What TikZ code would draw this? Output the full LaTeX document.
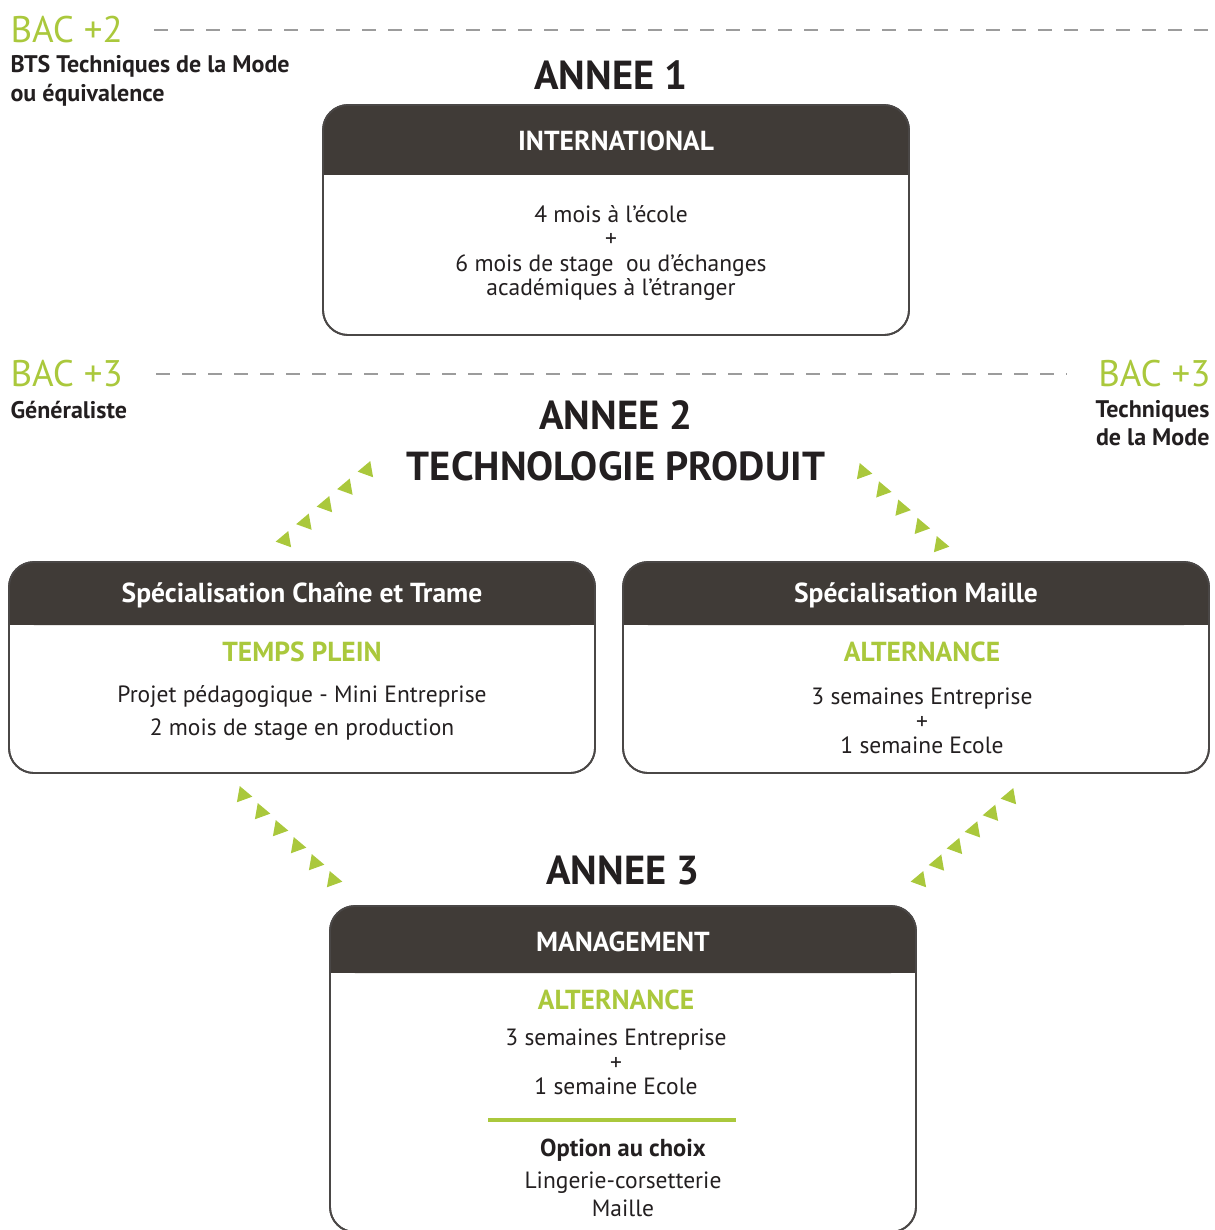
\documentclass[tikz,border=0pt]{standalone}
\usepackage{fontspec}
\setmainfont{PT Sans}
\usetikzlibrary{shapes.geometric}
\definecolor{hdr}{HTML}{403B37}
\definecolor{boxline}{HTML}{4A4746}
\definecolor{lime}{HTML}{AAC83C}
\definecolor{ink}{HTML}{231F20}
\definecolor{dashgray}{HTML}{9C9C9C}
\begin{document}
\begin{tikzpicture}[x=1pt,y=-1pt,
  card/.style={draw=boxline, line width=1.8pt, rounded corners=25pt, fill=white, anchor=north west, inner sep=0pt, outer sep=0pt, minimum width=586pt},
  hdrbox/.style={fill=hdr, rounded corners=25pt, anchor=north west, inner sep=0pt, outer sep=0pt, minimum width=586pt},
  htext/.style={text=white, font=\bfseries\fontsize{27.5}{30}\selectfont},
  body/.style={text=ink, align=center, font=\fontsize{23.5}{24.5}\selectfont},
  greentitle/.style={text=lime, font=\bfseries\fontsize{27.5}{30}\selectfont},
  title/.style={text=ink, font=\bfseries\fontsize{40.5}{46}\selectfont},
  bac/.style={text=lime, font=\fontsize{37}{40}\selectfont},
  sub/.style={text=ink, font=\bfseries\fontsize{24}{28.5}\selectfont},
  dashline/.style={draw=dashgray, line width=2.5pt, dash pattern=on 14pt off 12pt},
  tri/.style={regular polygon, regular polygon sides=3, fill=lime, inner sep=0pt, minimum size=19pt}
]
\useasboundingbox (0,0) rectangle (1214,1230);

% --- left / right labels and dashed levels
\node[bac, anchor=west] (bac2) at (7,30) {BAC +2};
\coordinate (d1) at (1214,30);
\draw[dashline] ([xshift=28pt]bac2.east) -- (d1);
\node[sub, anchor=west, align=left] (bts) at (7,81) {BTS Techniques de la Mode\\ou équivalence};

\node[bac, anchor=west] (bac3l) at (7,374) {BAC +3};
\node[sub, anchor=west] (gen) at (7,410) {Généraliste};
\node[bac, anchor=east] (bac3r) at (1214,374) {BAC +3};
\node[sub, anchor=east, align=right] (tdm) at (1213,423) {Techniques\\de la Mode};
\draw[dashline] ([xshift=30pt]bac3l.east) -- ([xshift=-28pt]bac3r.west);

% --- Annee 1
\node[title] (y1) at (611,75) {ANNEE 1};
\node[card, minimum height=230pt] (b1) at (323,105) {};
\node[hdrbox, minimum height=70pt] (h1) at (323,105) {};
\fill[hdr] ([yshift=30pt]h1.south west) rectangle (h1.south east);
\draw[draw=boxline, line width=1.8pt, rounded corners=25pt] (b1.north west) rectangle (b1.south east);
\node[htext] (h1t) at ([yshift=-1pt]h1.center) {INTERNATIONAL};
\node[body] (b1t) at (611,253) {4 mois à l’école\\+\\6 mois de stage \ ou d’échanges\\académiques à l’étranger};

% --- Annee 2
\node[title] (y2) at (616,415) {ANNEE 2};
\node[title] (tp) at (616,466) {TECHNOLOGIE PRODUIT};

% left box
\node[card, minimum height=211pt] (b2) at (9,562) {};
\node[hdrbox, minimum height=63pt] (h2) at (9,562) {};
\fill[hdr] ([yshift=30pt]h2.south west) rectangle (h2.south east);
\draw[draw=boxline, line width=1.8pt, rounded corners=25pt] (b2.north west) rectangle (b2.south east);
\node[htext] (h2t) at ([yshift=-2pt]h2.center) {Spécialisation Chaîne et Trame};
\node[greentitle] (g2) at (302,652) {TEMPS PLEIN};
\node[body, font=\fontsize{23.5}{33}\selectfont] (b2t) at (302,713) {Projet pédagogique - Mini Entreprise\\2 mois de stage en production};

% right box
\node[card, minimum height=211pt] (b3) at (623,562) {};
\node[hdrbox, minimum height=63pt] (h3) at (623,562) {};
\fill[hdr] ([yshift=30pt]h3.south west) rectangle (h3.south east);
\draw[draw=boxline, line width=1.8pt, rounded corners=25pt] (b3.north west) rectangle (b3.south east);
\node[htext] (h3t) at ([yshift=-2pt]h3.center) {Spécialisation Maille};
\node[greentitle] (g3) at (922,652) {ALTERNANCE};
\node[body] (b3t) at (922,721) {3 semaines Entreprise\\+\\1 semaine Ecole};

% --- Annee 3
\node[title] (y3) at (623,870) {ANNEE 3};
\node[card, minimum height=326pt] (b4) at (330,906) {};
\node[hdrbox, minimum height=67pt] (h4) at (330,906) {};
\fill[hdr] ([yshift=30pt]h4.south west) rectangle (h4.south east);
\draw[draw=boxline, line width=1.8pt, rounded corners=25pt] (b4.north west) rectangle (b4.south east);
\node[htext] (h4t) at ([yshift=-2pt]h4.center) {MANAGEMENT};
\node[greentitle] (g4) at (616,1000) {ALTERNANCE};
\node[body] (b4t) at (616,1062) {3 semaines Entreprise\\+\\1 semaine Ecole};
\coordinate (gl1) at (488,1120);
\coordinate (gl2) at (736,1120);
\draw[draw=lime, line width=4pt] (gl1) -- (gl2);
\node[sub, font=\bfseries\fontsize{24.5}{28}\selectfont] (opt) at (623,1150) {Option au choix};
\node[body, font=\fontsize{23.5}{28}\selectfont] (opts) at (623,1194) {Lingerie-corsetterie\\Maille};

% --- triangle chains
\coordinate (tla) at (285,540); \coordinate (tlb) at (367,470);
\coordinate (tra) at (863,472); \coordinate (trb) at (940,545);
\coordinate (bla) at (243,795); \coordinate (blb) at (333,880);
\coordinate (bra) at (920,880); \coordinate (brb) at (1010,797);
\foreach \p in {0,0.25,0.5,0.75,1} {
  \path (tla) -- (tlb) node[tri, pos=\p, rotate=-20] {};
  \path (tra) -- (trb) node[tri, pos=\p, rotate=20] {};
}
\foreach \p in {0,0.2,0.4,0.6,0.8,1} {
  \path (bla) -- (blb) node[tri, pos=\p, rotate=20] {};
  \path (bra) -- (brb) node[tri, pos=\p, rotate=-20] {};
}
\end{tikzpicture}
\end{document}
